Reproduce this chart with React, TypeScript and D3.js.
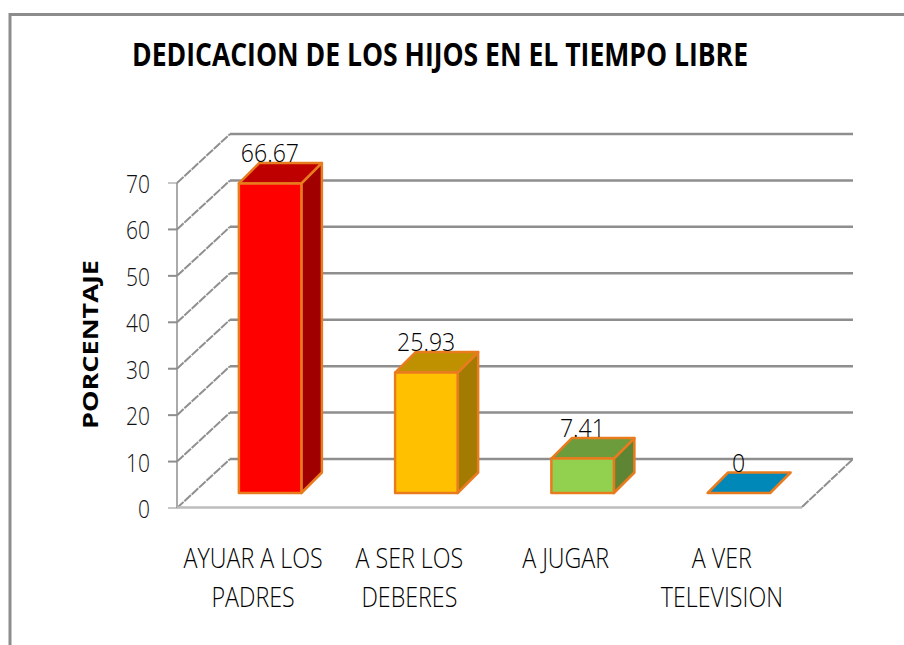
import React from "react";
import * as d3 from "d3";

const categories = ["AYUAR A LOS PADRES", "A SER LOS DEBERES", "A JUGAR", "A VER TELEVISION"];
const categoryLines = [["AYUAR A LOS", "PADRES"], ["A SER LOS", "DEBERES"], ["A JUGAR"], ["A VER", "TELEVISION"]];
const values = [66.67, 25.93, 7.41, 0];
const valueLabels = ["66.67", "25.93", "7.41", "0"];
const frontColors = ["#ff0000", "#ffc000", "#92d050", "#0088b8"];
const topColors = ["#bf0000", "#bf9000", "#6d9c3c", "#0088b8"];
const sideColors = ["#a00000", "#a37b00", "#5e8534", "#0088b8"];
const ticks = [0, 10, 20, 30, 40, 50, 60, 70];
const title = "DEDICACION DE LOS HIJOS EN EL TIEMPO LIBRE";
const axisTitle = "PORCENTAJE";

const FONT = "'Open Sans', sans-serif";

export default function App() {
  const y = d3.scaleLinear().domain([0, 70]).range([508, 183]);
  const barY = d3.scaleLinear().domain([0, 70]).range([493, 168]);
  const x = d3.scaleBand<string>().domain(categories).range([192, 817]).paddingInner(0.6).paddingOuter(0.3);
  const labelX = d3.scaleBand<string>().domain(categories).range([175, 800]);
  const wallDx = 53;
  const wallDy = -49;
  const depth = 20.5;
  const line = d3.line();
  const poly = (p: [number, number][]) => line(p) + "Z";
  return (
    <svg width={904} height={645} style={{ position: "absolute", left: 0, top: 0, background: "#fff" }}>
      <path d="M10 645V14.5H904" fill="none" stroke="#8c8c8c" strokeWidth={3} />
      <text x={132} y={66} textLength={616} lengthAdjust="spacingAndGlyphs" fontFamily={FONT} fontWeight={700} fontSize={33} fill="#000">{title}</text>
      <text transform="translate(98,429) rotate(-90)" textLength={169} lengthAdjust="spacingAndGlyphs" fontFamily={FONT} fontWeight={700} fontSize={22} fill="#000">{axisTitle}</text>

      {ticks.map((t) => (
        <g key={t}>
          <line x1={177 + wallDx} x2={853} y1={y(t) + wallDy} y2={y(t) + wallDy} stroke="#8e8e8e" strokeWidth={2.5} />
          <line x1={177} x2={177 + wallDx} y1={y(t)} y2={y(t) + wallDy} stroke="#8f8f8f" strokeWidth={2} strokeDasharray="9 1" />
          <line x1={168} x2={177} y1={y(t)} y2={y(t)} stroke="#8e8e8e" strokeWidth={t % 70 === 0 ? 1 : 2} />
          <text transform={`translate(150,${y(t) + 10}) scale(0.84,1)`} textAnchor="end" fontFamily={FONT} fontWeight={300} fontSize={25} fill="#111">{t}</text>
        </g>
      ))}
      <line x1={177} x2={177} y1={183} y2={508} stroke="#8e8e8e" strokeWidth={1.5} />
      <line x1={177} x2={802} y1={507.5} y2={507.5} stroke="#bdbdbd" strokeWidth={2.5} />
      <line x1={802} x2={853} y1={507} y2={459} stroke="#8f8f8f" strokeWidth={2} strokeDasharray="9 1" />

      {categories.map((c, i) => {
        const x0 = x(c)!;
        const x1 = x0 + x.bandwidth();
        const yb = barY(0);
        const yt = barY(values[i]);
        const stroke = { stroke: "#e97b1f", strokeWidth: 2.5, strokeLinejoin: "round" as const };
        return (
          <g key={c}>
            {values[i] > 0 && (
              <>
                <path d={poly([[x1, yt], [x1 + depth, yt - depth], [x1 + depth, yb - depth], [x1, yb]])} fill={sideColors[i]} {...stroke} />
                <path d={poly([[x0, yt], [x0 + depth, yt - depth], [x1 + depth, yt - depth], [x1, yt]])} fill={topColors[i]} {...stroke} />
                <rect x={x0} y={yt} width={x1 - x0} height={yb - yt} fill={frontColors[i]} {...stroke} />
              </>
            )}
            {values[i] === 0 && (
              <path d={poly([[x0, yb], [x0 + depth, yb - depth], [x1 + depth, yb - depth], [x1, yb]])} fill={topColors[i]} {...stroke} />
            )}
            <text transform={`translate(${x0 + 31},${yt - depth - 1}) scale(0.87,1)`} textAnchor="middle" fontFamily={FONT} fontWeight={300} fontSize={26.5} fill="#000">{valueLabels[i]}</text>
            {categoryLines[i].map((l, k) => (
              <text key={k} transform={`translate(${labelX(c)! + labelX.bandwidth() / 2},${568 + k * 39}) scale(0.83,1)`} textAnchor="middle" fontFamily={FONT} fontWeight={300} fontSize={28} fill="#000">{l}</text>
            ))}
          </g>
        );
      })}
    </svg>
  );
}
